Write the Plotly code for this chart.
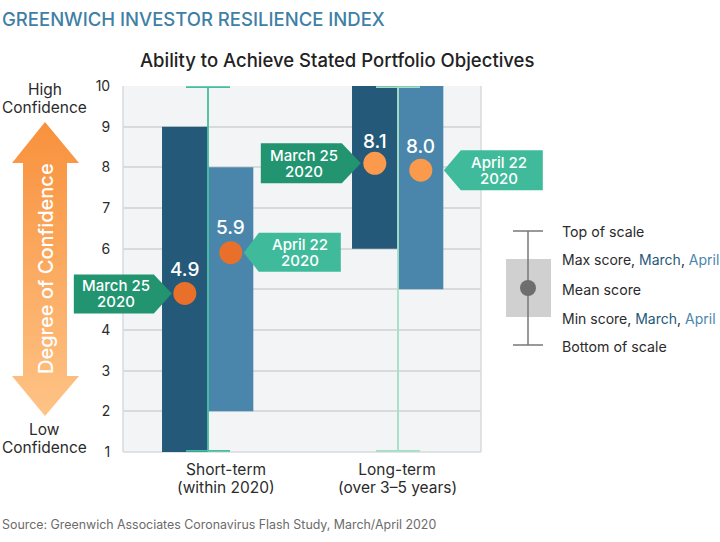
import plotly.graph_objects as go

categories = ["Short-term", "Long-term"]
periods = ["(within 2020)", "(over 3–5 years)"]
scale_bottom = [1.03, 1.03]
scale_top = [9.97, 9.97]
march_min = [1, 6]
march_max = [9, 10]
april_min = [2, 5]
april_max = [8, 10]
march_mean = [4.9, 8.1]
april_mean = [5.9, 7.93]
march_labels = ["4.9", "8.1"]
april_labels = ["5.9", "8.0"]
y_ticks = [1, 2, 3, 4, 5, 6, 7, 8, 9, 10]
y_tick_labels = ["1", "2", "3", "4", "", "6", "7", "8", "9", "10"]

W, H = 720, 542
FONT = "Inter"
INK = "#2b2b2b"
DARK = "#24597a"
MID = "#4a86ab"
GREEN = "#229470"
TEAL = "#3fbb9b"
GRID = "#d9dadc"


def px(x):
    return x / W


def py(y):
    return 1 - y / H


# page position of a value on the main axes (callout tags sit partly outside the plot)
def page_x(v):
    return 208 + 190 * v


def page_y(v):
    return 452 - (v - 1) * 366 / 9


centres = [0, 1]
mx = [c - 0.122 for c in centres]
ax = [c + 0.12 for c in centres]
tick_pos = [0.095, 0.995]

fig = go.Figure()
fig.add_bar(x=mx, base=march_min, y=[b - a for a, b in zip(march_min, march_max)],
            width=0.24, marker=dict(color=DARK, line_width=0), hoverinfo="skip", showlegend=False)
fig.add_bar(x=ax, base=april_min, y=[b - a for a, b in zip(april_min, april_max)],
            width=0.237, marker=dict(color=MID, line_width=0), hoverinfo="skip", showlegend=False)

whisker_cols = ["#45bd9f", "#a3dfc4"]
for i, c in enumerate(centres):
    fig.add_scatter(x=[c], y=[scale_bottom[i]], mode="markers", marker=dict(size=1, opacity=0),
                    error_y=dict(type="data", symmetric=False, array=[scale_top[i] - scale_bottom[i]],
                                 arrayminus=[0], color=whisker_cols[i], thickness=1.8, width=22),
                    cliponaxis=False, hoverinfo="skip", showlegend=False)

dot_cols = ["#e8702a", "#fb9a4d"]
fig.add_scatter(x=mx, y=march_mean, mode="markers",
                marker=dict(size=23, color=dot_cols, line_width=0), hoverinfo="skip", showlegend=False)
fig.add_scatter(x=ax, y=april_mean, mode="markers",
                marker=dict(size=23, color=dot_cols, line_width=0), hoverinfo="skip", showlegend=False)

# Gradient arrow, on a hidden full-page axis pair that counts in page pixels
fig.add_scatter(
    x=[45, 79, 67, 67, 79, 45, 12, 23, 23, 12, 45],
    y=[122, 163, 163, 376, 376, 416, 376, 376, 163, 163, 122],
    xaxis="x2", yaxis="y2", mode="lines", line_width=0, fill="toself",
    fillgradient=dict(type="vertical", colorscale=[[0, "#fec386"], [1, "#f8913c"]]),
    hoverinfo="skip", showlegend=False)

shapes = [dict(type="rect", xref="paper", yref="paper", x0=px(123), x1=px(481), y0=py(452), y1=py(86),
               fillcolor="#f3f4f6", line_width=0, layer="below")]
annots = []


def text(x, y, s, size=14, color=INK, anchor="center", weight=400, **kw):
    annots.append(dict(x=px(x), y=py(y), xref="paper", yref="paper", text=s, showarrow=False,
                       xanchor=anchor, yanchor="middle",
                       font=dict(family=FONT, size=size, color=color, weight=weight), **kw))


def callout(xv, yv, pts, color, lines, dx=0):
    """Pentagon tag given in pixels (x right, y down) relative to the dot it points at."""
    ox, oy = page_x(xv), page_y(yv)
    path = "M" + " L".join(f"{px(ox + a):.5f} {py(oy + b):.5f}" for a, b in pts) + " Z"
    shapes.append(dict(type="path", path=path, xref="paper", yref="paper",
                       fillcolor=color, line_width=0, layer="above"))
    xs = sorted(p[0] for p in pts)
    tip_right = pts[2][0] == xs[-1]
    cx = (xs[0] + xs[-2]) / 2 if tip_right else (xs[1] + xs[-1]) / 2
    cy = (pts[0][1] + pts[-1][1]) / 2
    for k, line in enumerate(lines):
        annots.append(dict(x=xv, y=yv, xref="x", yref="y", xshift=cx + dx,
                           yshift=-cy + (8 if k == 0 else -8),
                           text=line, showarrow=False, xanchor="center", yanchor="middle",
                           font=dict(family=FONT, size=15, color="white", weight=500)))


callout(mx[0], march_mean[0], [(-111, -19), (-31, -19), (-13, 0), (-31, 20), (-111, 20)], GREEN, ["March 25", "2020"], dx=2)
callout(ax[0], april_mean[0], [(110, -20), (28, -20), (13, 0), (28, 19), (110, 19)], TEAL, ["April 22", "2020"])
callout(mx[1], march_mean[1], [(-114, -20), (-33, -20), (-14, 0), (-33, 20), (-114, 20)], GREEN, ["March 25", "2020"], dx=3)
callout(ax[1], april_mean[1], [(122, -20), (40, -20), (23, 0), (40, 20), (122, 20)], TEAL, ["April 22", "2020"], dx=-2.5)

for xs, ys, labels, shifts in ((mx, march_mean, march_labels, (24, 22)), (ax, april_mean, april_labels, (25, 24))):
    for xv, yv, lab, sh in zip(xs, ys, labels, shifts):
        annots.append(dict(x=xv, y=yv, xref="x", yref="y", yshift=sh, text=lab, showarrow=False,
                           font=dict(family=FONT, size=19, color="white", weight=500)))

# Second line of each category label
for tp, per in zip(tick_pos, periods):
    annots.append(dict(x=tp, y=py(487), xref="x", yref="paper", text=per, showarrow=False,
                       xanchor="center", yanchor="middle", font=dict(family=FONT, size=15.5, color=INK)))

# Plot frame
for x0, y0, x1, y1 in ((123, 86, 123, 452), (481, 86, 481, 452), (123, 452, 481, 452)):
    shapes.append(dict(type="line", xref="paper", yref="paper", x0=px(x0), y0=py(y0), x1=px(x1), y1=py(y1),
                       line=dict(color=GRID, width=1.5), layer="below"))

# Legend key
GREY = "#777777"
shapes.append(dict(type="rect", xref="paper", yref="paper", x0=px(506), x1=px(551), y0=py(259), y1=py(317),
                   fillcolor="#d0d0d0", line_width=0))
for x0, y0, x1, y1 in ((528, 231, 528, 345), (513, 231, 543, 231), (513, 345, 543, 345)):
    shapes.append(dict(type="line", xref="paper", yref="paper", x0=px(x0), y0=py(y0), x1=px(x1), y1=py(y1),
                       line=dict(color=GREY, width=1.5)))
shapes.append(dict(type="circle", xref="paper", yref="paper", x0=px(520), x1=px(536), y0=py(280), y1=py(296),
                   fillcolor="#6e6e6e", line_width=0))

LG = 14.2
text(560, 231, "Top of scale", LG, anchor="left")
text(560, 260, f'Max score, <span style="color:{DARK}">March</span>, <span style="color:{MID}">April</span>', 14, anchor="left")
text(560, 289, "Mean score", LG, anchor="left")
text(560, 318, f'Min score, <span style="color:{DARK}">March</span>, <span style="color:{MID}">April</span>', 14, anchor="left")
text(560, 346, "Bottom of scale", LG, anchor="left")

text(0, 19, "GREENWICH INVESTOR RESILIENCE INDEX", 18.5, "#3f80a6", "left", 500)
text(337, 60, "Ability to Achieve Stated Portfolio Objectives", 18.5, "#222222", weight=500)
text(44.5, 89.5, "High", 15.5)
text(44.5, 107.5, "Confidence", 15.5)
text(44.5, 429.5, "Low", 15.5)
text(44.5, 447.5, "Confidence", 15.5)
text(46, 269, "Degree of Confidence", 20, "white", weight=500, textangle=-90)
text(0, 524, "Source: Greenwich Associates Coronavirus Flash Study, March/April 2020", 12.4, "#6b6b6b", "left")

fig.update_layout(
    width=W, height=H, margin=dict(l=0, r=0, t=0, b=0, autoexpand=False),
    paper_bgcolor="white", plot_bgcolor="rgba(0,0,0,0)",
    barmode="overlay", shapes=shapes, annotations=annots, showlegend=False,
    font=dict(family=FONT, color=INK),
    xaxis=dict(domain=[px(123), px(481)], range=[(123 - 208) / 190, (481 - 208) / 190],
               tickmode="array", tickvals=tick_pos, ticktext=categories, showgrid=False, zeroline=False,
               ticks="outside", ticklen=3, tickcolor="rgba(0,0,0,0)", tickfont=dict(size=15.5),
               fixedrange=True, automargin=False),
    yaxis=dict(domain=[py(452), py(86)], range=[1, 10], tickmode="array", tickvals=y_ticks,
               ticktext=y_tick_labels,
               gridcolor=GRID, gridwidth=1.5, zeroline=False, ticks="outside", ticklen=9,
               tickcolor="rgba(0,0,0,0)", tickfont=dict(size=14), fixedrange=True, automargin=False),
    xaxis2=dict(domain=[0, 1], range=[0, W], anchor="y2", visible=False, fixedrange=True),
    yaxis2=dict(domain=[0, 1], range=[H, 0], anchor="x2", visible=False, fixedrange=True),
)
fig.write_html("out.html", config=dict(displayModeBar=False),
               post_script="document.body.style.margin='0';")
